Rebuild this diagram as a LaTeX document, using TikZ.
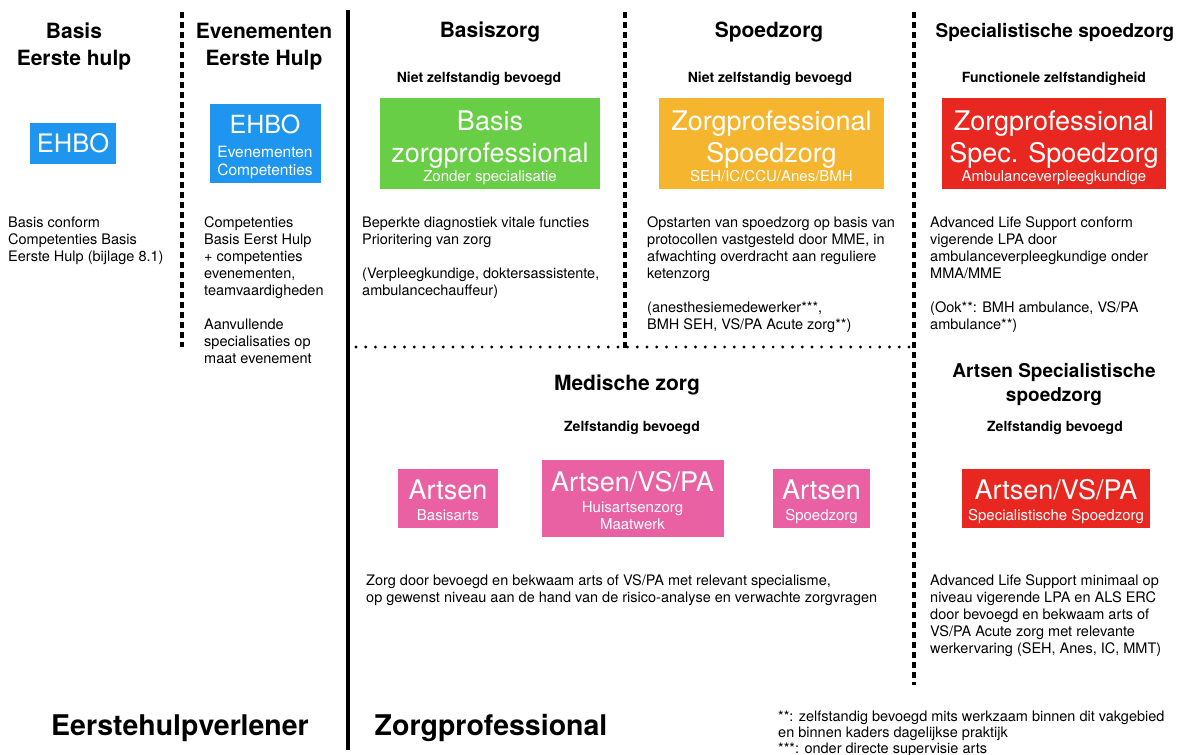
\documentclass[tikz,border=0pt]{standalone}
\usepackage{fontspec}
\setmainfont{TeX Gyre Heros}
\usepackage{tikz}
\definecolor{ehboblue}{RGB}{30,150,240}
\definecolor{zgreen}{RGB}{103,206,69}
\definecolor{zorange}{RGB}{245,181,47}
\definecolor{zred}{RGB}{232,40,32}
\definecolor{zpink}{RGB}{233,97,163}
\tikzset{
  hd/.style={font=\fontsize{21}{27}\selectfont\bfseries, align=center, inner sep=0pt},
  hdr/.style={font=\fontsize{19}{24}\selectfont\bfseries, align=center, inner sep=0pt},
  hdbig/.style={font=\fontsize{28.5}{34}\selectfont\bfseries, inner sep=0pt, anchor=base},
  sub/.style={font=\fontsize{14}{17}\selectfont\bfseries, inner sep=0pt, anchor=base},
  body/.style={font=\fontsize{14.5}{17}\selectfont, align=left, anchor=north west, inner sep=0pt},
  zbox/.style={rectangle, inner sep=0pt, draw=none},
  bigw/.style={text=white, font=\fontsize{27}{32}\selectfont, align=center, inner sep=0pt},
  smallw/.style={text=white, font=\fontsize{15}{17.5}\selectfont, align=center, inner sep=0pt},
  dashline/.style={line width=3.2pt, dash pattern=on 5.5pt off 4.5pt},
  dotline/.style={line width=3.2pt, line cap=round, dash pattern=on 0pt off 9.7pt}
}
\begin{document}
\begin{tikzpicture}[x=1pt,y=-1pt]
\useasboundingbox (0,0) rectangle (1184,755);
% dividers
\coordinate (d1t) at (182,12);   \coordinate (d1b) at (182,347);
\coordinate (s1t) at (348,10);   \coordinate (s1b) at (348,750);
\coordinate (d2t) at (625,12);   \coordinate (d2b) at (625,349);
\coordinate (d3t) at (914,12);   \coordinate (d3b) at (914,685);
\coordinate (h1l) at (356,347);  \coordinate (h1r) at (914,347);
\draw[dashline] (d1t) -- (d1b);
\draw[line width=4.5pt] (s1t) -- (s1b);
\draw[dashline] (d2t) -- (d2b);
\draw[dashline] (d3t) -- (d3b);
\draw[dotline] (h1l) -- (h1r);
% headings
\node[hd, anchor=north] (hbasis) at (74,22.5) {Basis\\Eerste hulp};
\node[hd, anchor=north] (hevent) at (264,22.5) {Evenementen\\Eerste Hulp};
\node[hd, anchor=base] (hbzorg) at (490,37) {Basiszorg};
\node[hd, anchor=base] (hspoed) at (769,37) {Spoedzorg};
\node[hdr, anchor=base] (hspec) at (1055,37) {Specialistische spoedzorg};
\node[hd, anchor=base] (hmed) at (627,390) {Medische zorg};
\node[hdr, anchor=north] (hartsen) at (1054,363) {Artsen Specialistische\\spoedzorg};
\node[sub] (nz1) at (479,82) {Niet zelfstandig bevoegd};
\node[sub] (nz2) at (770,82) {Niet zelfstandig bevoegd};
\node[sub] (fz) at (1054,82) {Functionele zelfstandigheid};
\node[sub] (zb1) at (632,431) {Zelfstandig bevoegd};
\node[sub] (zb2) at (1055,431) {Zelfstandig bevoegd};
% boxes
\node[zbox, fill=ehboblue, minimum width=86pt, minimum height=41pt] (ehbo) at (73,143.5) {};
\node[bigw, font=\fontsize{25.5}{30}\selectfont] (ehbot) at (ehbo) {EHBO};
\node[zbox, fill=ehboblue, minimum width=111pt, minimum height=79pt] (ehboev) at (265,143.5) {};
\node[bigw, font=\fontsize{25}{30}\selectfont, anchor=base] (ehboevt) at (265,133) {EHBO};
\node[smallw, font=\fontsize{15.5}{18}\selectfont, anchor=north] (ehboevs) at (265,145.5) {Evenementen\\Competenties};
\node[zbox, fill=zgreen, minimum width=220pt, minimum height=91pt] (basisbox) at (490,143.5) {};
\node[bigw, anchor=north] (basist) at (490,110.6) {Basis\\zorgprofessional};
\node[smallw, anchor=base] (basiss) at (490,181) {Zonder specialisatie};
\node[zbox, fill=zorange, minimum width=225pt, minimum height=91pt] (spoedbox) at (771.5,143.5) {};
\node[bigw, anchor=north] (spoedt) at (771.5,110.6) {Zorgprofessional\\Spoedzorg};
\node[smallw, anchor=base] (spoeds) at (771.5,181) {SEH/IC/CCU/Anes/BMH};
\node[zbox, fill=zred, minimum width=224pt, minimum height=91pt] (specbox) at (1054,143.5) {};
\node[bigw, anchor=north] (spect) at (1054,110.6) {Zorgprofessional\\Spec. Spoedzorg};
\node[smallw, anchor=base] (specs) at (1054,181) {Ambulanceverpleegkundige};
\node[zbox, fill=zpink, minimum width=100pt, minimum height=59pt] (arts1) at (448,498.5) {};
\node[bigw, anchor=base] (arts1t) at (448,499) {Artsen};
\node[smallw, anchor=base] (arts1s) at (448,520.5) {Basisarts};
\node[zbox, fill=zpink, minimum width=182pt, minimum height=77pt] (arts2) at (632.5,498) {};
\node[bigw, anchor=base] (arts2t) at (632.5,491) {Artsen/VS/PA};
\node[smallw, anchor=north] (arts2s) at (632.5,501) {Huisartsenzorg\\Maatwerk};
\node[zbox, fill=zpink, minimum width=97pt, minimum height=59pt] (arts3) at (821.5,498.5) {};
\node[bigw, anchor=base] (arts3t) at (821.5,499) {Artsen};
\node[smallw, anchor=base] (arts3s) at (821.5,520.5) {Spoedzorg};
\node[zbox, fill=zred, minimum width=188pt, minimum height=59pt] (arts4) at (1056,498.5) {};
\node[bigw, anchor=base] (arts4t) at (1056,499) {Artsen/VS/PA};
\node[smallw, anchor=base] (arts4s) at (1056,520.5) {Specialistische Spoedzorg};
% body texts
\node[body] (tbasis) at (8,216.5) {Basis conform\\Competenties Basis\\Eerste Hulp (bijlage 8.1)};
\node[body] (tevent) at (204,216.5) {Competenties\\Basis Eerst Hulp\\+ competenties\\evenementen,\\teamvaardigheden\\[17pt]Aanvullende\\specialisaties op\\maat evenement};
\node[body] (tbzorg) at (362,216.5) {Beperkte diagnostiek vitale functies\\Prioritering van zorg\\[17pt](Verpleegkundige, doktersassistente,\\ambulancechauffeur)};
\node[body] (tspoed) at (647,216.5) {Opstarten van spoedzorg op basis van\\protocollen vastgesteld door MME, in\\afwachting overdracht aan reguliere\\ketenzorg\\[17pt](anesthesiemedewerker***,\\BMH SEH, VS/PA Acute zorg**)};
\node[body] (tspec) at (930,216.5) {Advanced Life Support conform\\vigerende LPA door\\ambulanceverpleegkundige onder\\MMA/MME\\[17pt](Ook**: BMH ambulance, VS/PA\\ambulance**)};
\node[body] (tmed) at (366,574.5) {Zorg door bevoegd en bekwaam arts of VS/PA met relevant specialisme,\\op gewenst niveau aan de hand van de risico-analyse en verwachte zorgvragen};
\node[body] (tarts) at (930,574.5) {Advanced Life Support minimaal op\\niveau vigerende LPA en ALS ERC\\door bevoegd en bekwaam arts of\\VS/PA Acute zorg met relevante\\werkervaring (SEH, Anes, IC, MMT)};
\node[body, font=\fontsize{14.5}{16}\selectfont] (tnote) at (778,710.5) {**: zelfstandig bevoegd mits werkzaam binnen dit vakgebied\\en binnen kaders dagelijkse praktijk\\***: onder directe supervisie arts};
% bottom labels
\node[hdbig] (lehv) at (180,735) {Eerstehulpverlener};
\node[hdbig] (lzp) at (491,735) {Zorgprofessional};
\end{tikzpicture}
\end{document}
